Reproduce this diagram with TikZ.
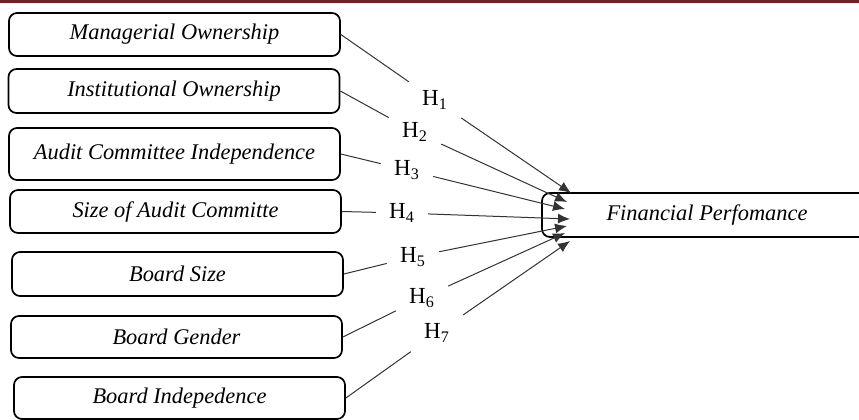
\documentclass[tikz,border=0pt]{standalone}
\usepackage{fontspec}
\setmainfont{Liberation Serif}
\usetikzlibrary{arrows.meta}
\definecolor{barred}{RGB}{108,34,38}

\begin{document}
\begin{tikzpicture}[x=0.5pt, y=-0.5pt,
  factor/.style = {shape=rectangle, rounded corners=4pt, draw, line width=0.85pt,
    minimum width=165.5pt, minimum height=21.5pt,
    font=\fontsize{11.2}{13}\selectfont\itshape},
  hyp/.style = {inner sep=6.5pt, font=\fontsize{11.5}{13}\selectfont},
  link/.style = {line width=0.5pt, draw=black!80}]
  \useasboundingbox (0,0) rectangle (859,419);
  \fill[barred] (0,0) rectangle (859,3);
  % independent variables
  \node[factor] (mo) at (174.5,34.5) {Managerial Ownership};
  \node[factor, minimum height=22pt] (io) at (174,91) {Institutional Ownership};
  \node[factor, minimum height=26pt] (aci) at (174.5,154) {Audit Committee Independence};
  \node[factor] (sac) at (175.5,211.5) {Size of Audit Committe};
  \node[factor, minimum height=22pt] (bs) at (177.5,274) {Board Size};
  \node[factor, minimum height=21pt] (bg) at (176.5,337) {Board Gender};
  \node[factor, minimum height=21pt] (bi) at (179.5,398) {Board Indepedence};
  % dependent variable
  \node[factor, minimum height=22pt, minimum width=165pt] (fp) at (707,215) {Financial Perfomance};
  % hypotheses
  \node[hyp] (h1) at (435,100) {H\textsubscript{1}};
  \node[hyp] (h2) at (415,132) {H\textsubscript{2}};
  \node[hyp] (h3) at (407,170) {H\textsubscript{3}};
  \node[hyp] (h4) at (402,213) {H\textsubscript{4}};
  \node[hyp] (h5) at (413,257) {H\textsubscript{5}};
  \node[hyp] (h6) at (422,298) {H\textsubscript{6}};
  \node[hyp] (h7) at (437,333) {H\textsubscript{7}};
  \coordinate (t1) at (571,193);
  \coordinate (t2) at (567,202);
  \coordinate (t3) at (565,209);
  \coordinate (t4) at (570,219);
  \coordinate (t5) at (567,226);
  \coordinate (t6) at (565,233);
  \coordinate (t7) at (570,241);
  \foreach \i/\src in {1/mo, 2/io, 3/aci, 4/sac, 5/bs, 6/bg, 7/bi} {
    \draw[link] (\src.east) -- (h\i);
    \draw[link, -{Latex[length=6pt, width=5pt]}] (h\i) -- (t\i);
  }
\end{tikzpicture}
\end{document}
